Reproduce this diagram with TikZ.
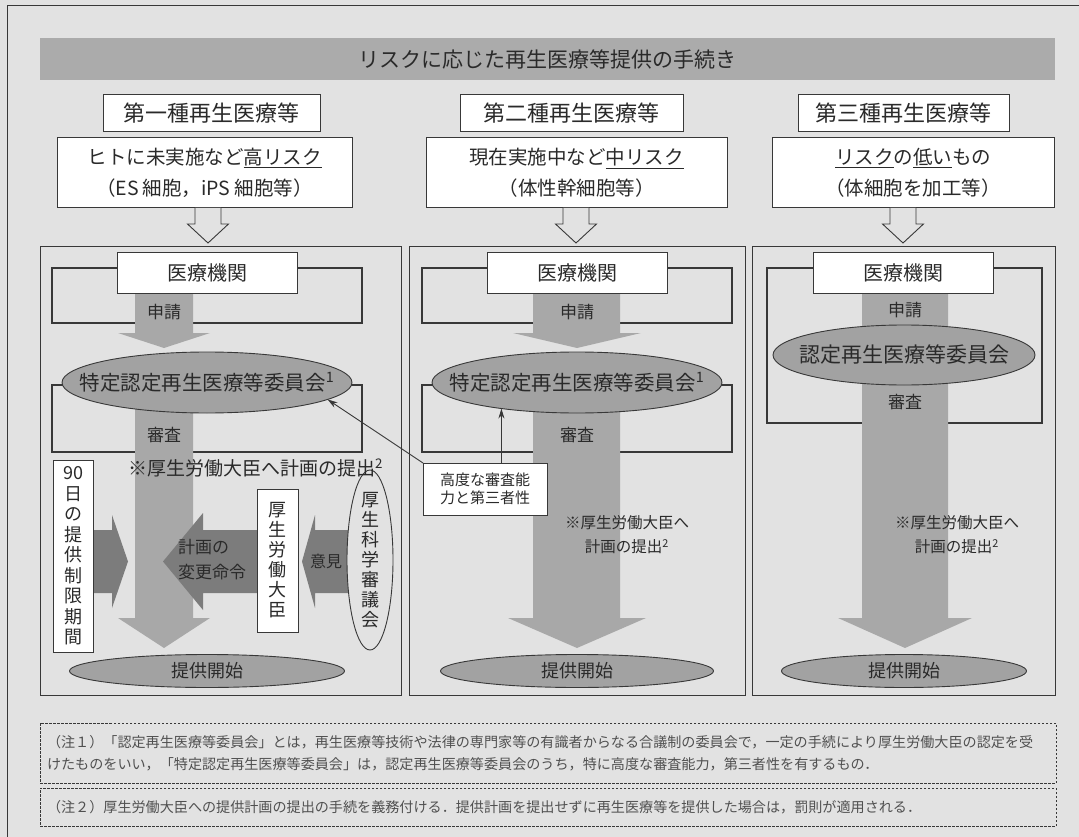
\documentclass[tikz,border=0pt]{standalone}
\usepackage{fontspec}
\setmainfont{Noto Sans CJK JP}
\usetikzlibrary{arrows.meta,shapes.geometric}
\definecolor{bg}{HTML}{E2E2E2}
\definecolor{band}{HTML}{A8A8A8}
\definecolor{ellf}{HTML}{A2A2A2}
\definecolor{dark}{HTML}{7C7C7C}
\definecolor{ln}{HTML}{383838}
\definecolor{txt}{HTML}{2A2A2A}
\definecolor{notec}{HTML}{505050}
\definecolor{titlebar}{HTML}{ABABAB}
\newcommand{\fs}[2]{\fontsize{#1pt}{#2pt}\selectfont}
\begin{document}
\begin{tikzpicture}[x=1pt,y=-1pt,
  every node/.style={inner sep=0pt,outer sep=0pt,text=txt},
  wbox/.style={draw=ln,fill=white,line width=1pt},
  panel/.style={draw=ln,line width=0.8pt},
  brk/.style={draw=ln,line width=1.3pt},
  ell/.style={ellipse,draw=ln,fill=ellf,line width=0.9pt},
  vell/.style={ellipse,draw=ln,fill=bg,line width=0.9pt},
  harrow/.style={draw=ln,fill=bg,line width=0.9pt},
  notebox/.style={draw=ln,dash pattern=on 2.5pt off 1.5pt,line width=0.7pt},
  ptr/.style={draw=ln,line width=0.9pt,-{Stealth[length=10pt,width=6pt]}},
]
\useasboundingbox (0,0) rectangle (1079,837);
\fill[bg] (0,0) rectangle (1079,837);
\draw[ln,line width=0.8pt] (7.5,837) -- (7.5,5) -- (1079,5);

% title
\node[fill=titlebar,minimum width=1015pt,minimum height=42pt,font=\fs{21}{25}] (title) at (547.5,59) {リスクに応じた再生医療等提供の手続き};

% headers
\node[wbox,minimum width=217pt,minimum height=37pt,font=\fs{22}{26}] (h1) at (211.5,113.5) {第一種再生医療等};
\node[wbox,minimum width=223pt,minimum height=37pt,font=\fs{22}{26}] (h2) at (571.5,113.5) {第二種再生医療等};
\node[wbox,minimum width=211pt,minimum height=37pt,font=\fs{22}{26}] (h3) at (903.5,113.5) {第三種再生医療等};

\node[wbox,minimum width=295pt,minimum height=70pt,align=center,font=\fs{19.5}{31}] (d1) at (204.5,173) {ヒトに未実施など\underline{高リスク}\\（ES 細胞，iPS 細胞等）};
\node[wbox,minimum width=301pt,minimum height=70pt,align=center,font=\fs{19.5}{31}] (d2) at (576.5,173) {現在実施中など\underline{中リスク}\\（体性幹細胞等）};
\node[wbox,minimum width=282pt,minimum height=70pt,align=center,font=\fs{19.5}{31}] (d3) at (913,173) {\underline{リスク}の\underline{低い}もの\\（体細胞を加工等）};

% hollow arrows
\foreach \cx in {208,576,903}
  \draw[harrow] (\cx-13,208) -- (\cx-13,224) -- (\cx-20.5,224) -- (\cx,243) -- (\cx+20.5,224) -- (\cx+13,224) -- (\cx+13,208);

% panels
\node[panel,minimum width=361pt,minimum height=449pt] (p1) at (220.5,470.5) {};
\node[panel,minimum width=336pt,minimum height=449pt] (p2) at (577,470.5) {};
\node[panel,minimum width=303pt,minimum height=449pt] (p3) at (903.5,470.5) {};

% bracket rectangles
\draw[brk] (52,268) rectangle (362,323);
\draw[brk] (52,385) rectangle (362,452);
\draw[brk] (422,268) rectangle (732,323);
\draw[brk] (422,385) rectangle (732,452);
\draw[brk] (767,268) rectangle (1042,423);

% main bands
\fill[band] (135,293) -- (135,333) -- (118,333) -- (164,348) -- (210,333) -- (193,333) -- (193,293) -- cycle;
\fill[band] (135,400) -- (135,618) -- (118,618) -- (164,648) -- (210,618) -- (193,618) -- (193,400) -- cycle;
\fill[band] (533,293) -- (533,333) -- (513,333) -- (577,348) -- (641,333) -- (620,333) -- (620,293) -- cycle;
\fill[band] (533,400) -- (533,618) -- (508,618) -- (577,648) -- (646,618) -- (620,618) -- (620,400) -- cycle;
\fill[band] (862,293) -- (862,618) -- (838,618) -- (905,648) -- (972,618) -- (948,618) -- (948,293) -- cycle;

% dark side arrows (panel 1)
\fill[dark] (93,530) -- (112,530) -- (112,515) -- (128,561.5) -- (112,608) -- (112,593) -- (93,593) -- cycle;
\fill[dark] (257,530) -- (203,530) -- (203,513) -- (163,561.5) -- (203,610) -- (203,593) -- (257,593) -- cycle;
\fill[dark] (350,530) -- (315,530) -- (315,515) -- (302,561.5) -- (315,608) -- (315,593) -- (350,593) -- cycle;

% institution boxes
\node[wbox,minimum width=180pt,minimum height=40pt,font=\fs{20}{24}] (m1) at (207,273) {医療機関};
\node[wbox,minimum width=180pt,minimum height=40pt,font=\fs{20}{24}] (m2) at (577,273) {医療機関};
\node[wbox,minimum width=180pt,minimum height=40pt,font=\fs{20}{24}] (m3) at (903,273) {医療機関};

% committees
\node[ell,minimum width=290pt,minimum height=61pt] (e1) at (207,382.5) {};
\node[font=\fs{20.5}{25}] (e1t) at (e1) {特定認定再生医療等委員会\textsuperscript{1}};
\node[ell,minimum width=290pt,minimum height=61pt] (e2) at (577,382.5) {};
\node[font=\fs{20.5}{25}] (e2t) at (e2) {特定認定再生医療等委員会\textsuperscript{1}};
\node[ell,minimum width=262pt,minimum height=60pt] (e3) at (904,355) {};
\node[font=\fs{21}{25}] (e3t) at (e3) {認定再生医療等委員会};

% labels on bands
\node[font=\fs{17}{20}] (s1) at (164,312) {申請};
\node[font=\fs{17}{20}] (r1) at (164,435) {審査};
\node[font=\fs{17}{20}] (s2) at (577,312) {申請};
\node[font=\fs{17}{20}] (r2) at (577,435) {審査};
\node[font=\fs{17}{20}] (s3) at (905,310) {申請};
\node[font=\fs{17}{20}] (r3) at (905,402) {審査};

% start ellipses
\node[ell,minimum width=275pt,minimum height=33pt,font=\fs{18}{20}] (f1) at (207,671) {提供開始};
\node[ell,minimum width=273pt,minimum height=33pt,font=\fs{18}{20}] (f2) at (577,671) {提供開始};
\node[ell,minimum width=245pt,minimum height=33pt,font=\fs{18}{20}] (f3) at (904,671) {提供開始};

% panel 1 side items
\node[wbox,minimum width=40pt,minimum height=192pt,align=center,font=\fs{18}{20.5}] (b90) at (73,556) {90\\日\\の\\提\\供\\制\\限\\期\\間};
\node[wbox,minimum width=41pt,minimum height=143pt,align=center,font=\fs{18}{20}] (kr) at (277.5,560.5) {厚\\生\\労\\働\\大\\臣};
\node[vell,minimum width=46pt,minimum height=180pt] (ks) at (370,560) {};
\node[align=center,font=\fs{18}{20}] (kst) at (ks) {厚\\生\\科\\学\\審\\議\\会};
\node[font=\fs{17}{25},align=left,anchor=west] (kh) at (178,559.5) {計画の\\変更命令};
\node[font=\fs{16}{20}] (ik) at (326,561.5) {意見};

% submission notes
\node[font=\fs{19}{22},anchor=west] (t1) at (128,468) {※厚生労働大臣へ計画の提出\textsuperscript{2}};
\node[font=\fs{15.5}{24},align=center] (t2) at (627,535) {※厚生労働大臣へ\\計画の提出\textsuperscript{2}};
\node[font=\fs{15.5}{24},align=center] (t3) at (957,535) {※厚生労働大臣へ\\計画の提出\textsuperscript{2}};

% capability box and pointers
\node[wbox,minimum width=124pt,minimum height=52pt,align=center,font=\fs{15}{18}] (hb) at (485,489) {高度な審査能\\力と第三者性};
\draw[ptr] (hb.north west) -- (e1.-8);
\draw[ptr] (hb.north -| e2.199) -- (e2.199);

% notes
\node[notebox,minimum width=1016pt,minimum height=60pt] (n1) at (548,753) {};
\node[notebox,minimum width=1016pt,minimum height=38pt] (n2) at (548,807) {};
\node[font=\fs{14.1}{22},text=notec,anchor=west,align=left] (n1t) at (47,753) {（注１）「認定再生医療等委員会」とは，再生医療等技術や法律の専門家等の有識者からなる合議制の委員会で，一定の手続により厚生労働大臣の認定を受\\けたものをいい，「特定認定再生医療等委員会」は，認定再生医療等委員会のうち，特に高度な審査能力，第三者性を有するもの．};
\node[font=\fs{14.1}{16},text=notec,anchor=west] (n2t) at (47,807) {（注２）厚生労働大臣への提供計画の提出の手続を義務付ける．提供計画を提出せずに再生医療等を提供した場合は，罰則が適用される．};
\end{tikzpicture}
\end{document}
